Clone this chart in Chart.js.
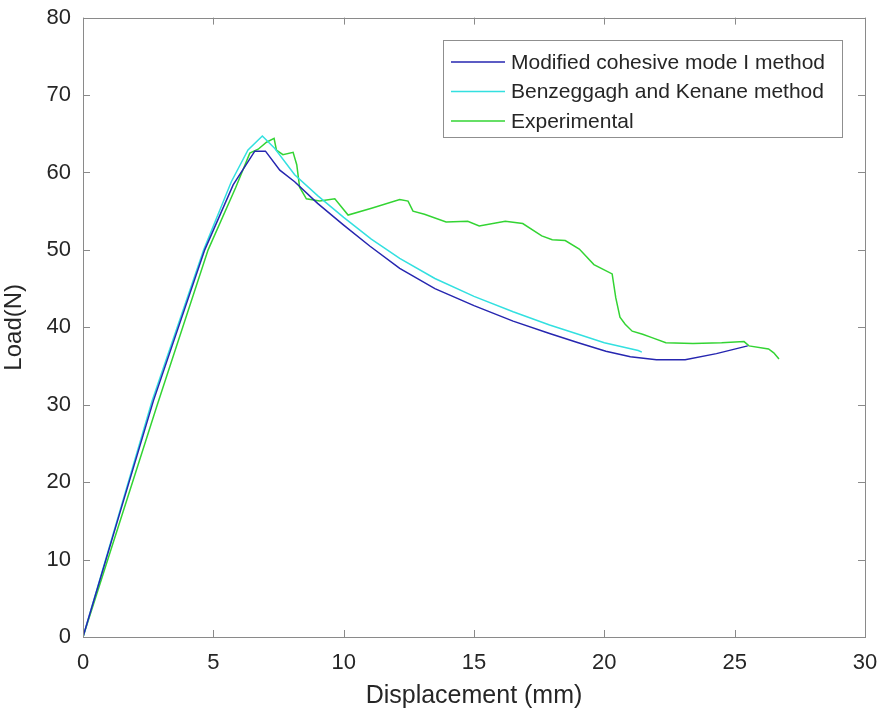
<!DOCTYPE html>
<html>
<head>
<meta charset="utf-8">
<title>Load vs displacement</title>
<script src="https://cdn.jsdelivr.net/npm/chart.js@4.4.1/dist/chart.umd.min.js"></script>
<style>
    html, body { margin: 0; padding: 0; background: #fff; }
    #wrap { width: 884px; height: 720px; }
</style>
</head>
<body>
<div id="wrap"><canvas id="loadChart" width="884" height="720"></canvas></div>
<script>
// Load–displacement curves: two cohesive-zone models against the test record

const xTicks = [0, 5, 10, 15, 20, 25, 30];
const yTicks = [0, 10, 20, 30, 40, 50, 60, 70, 80];

const seriesLabels = [
    'Modified cohesive mode I method',
    'Benzeggagh and Kenane method',
    'Experimental'
];
const seriesColors = ['#2626b0', '#33e0e0', '#33d433'];

const modifiedX = [0, 1.5, 2.7, 4.67, 5.76, 6.59, 7.0, 7.55, 8.12, 9, 10, 11, 12.15, 13.5, 15, 16.5, 17.9, 19, 20.06, 21, 22, 23.1, 24.3, 25.5];
const modifiedY = [0, 17, 30.5, 50, 58.4, 62.75, 62.75, 60.3, 58.8, 56, 53.2, 50.5, 47.6, 45, 42.8, 40.8, 39.2, 38, 36.9, 36.2, 35.8, 35.8, 36.6, 37.6];

const bkX = [0, 2.65, 4.63, 5.69, 6.33, 6.88, 7.36, 8.12, 9, 10, 11.06, 12.15, 13.5, 15, 16.5, 17.9, 19, 20, 21.3, 21.44];
const bkY = [0, 30.5, 50, 58.8, 62.9, 64.7, 63.1, 59.7, 57, 54.2, 51.4, 48.9, 46.3, 44, 42, 40.3, 39.1, 38, 37, 36.8];

const expX = [0, 2.85, 4.8, 5.85, 6.4, 6.72, 7.04, 7.33, 7.42, 7.67, 8.06, 8.2, 8.31, 8.57, 9.08, 9.66, 10.17, 11.1, 12.15, 12.47, 12.66, 13.1, 13.93, 14.76, 15.2, 16.2, 16.87, 17.6, 18.0, 18.5, 19.04, 19.6, 20.3, 20.44, 20.6, 20.8, 21.07, 21.47, 21.8, 22.36, 23.4, 24.5, 25.36, 25.55, 26.3, 26.5, 26.7];
const expY = [0, 30, 50, 58, 62.5, 63.0, 63.9, 64.4, 62.9, 62.3, 62.6, 61, 58.1, 56.6, 56.3, 56.6, 54.5, 55.4, 56.5, 56.3, 55.0, 54.6, 53.6, 53.7, 53.1, 53.7, 53.4, 51.8, 51.3, 51.2, 50.1, 48.1, 46.9, 43.8, 41.3, 40.4, 39.5, 39.1, 38.7, 38.0, 37.9, 38.0, 38.15, 37.6, 37.2, 36.7, 35.9];

function toPoints(xs, ys) {
    return xs.map((x, i) => ({ x: x, y: ys[i] }));
}

const seriesData = [
    toPoints(modifiedX, modifiedY),
    toPoints(bkX, bkY),
    toPoints(expX, expY)
];

const FONT = '"Liberation Sans", Arial, sans-serif';
const AXIS_COLOR = '#8a8a8a';
const TEXT_COLOR = '#262626';

/**
 * Box around the plot with inward ticks on all four sides
 */
const frameTicks = {
    id: 'frameTicks',
    afterDatasetsDraw(chart) {
        const { ctx, chartArea: a, scales } = chart;
        const len = 7;
        ctx.save();
        ctx.strokeStyle = AXIS_COLOR;
        ctx.lineWidth = 1;
        ctx.strokeRect(Math.round(a.left) + 0.5, Math.round(a.top) + 0.5,
            Math.round(a.right - a.left), Math.round(a.bottom - a.top));
        ctx.beginPath();
        xTicks.forEach(v => {
            const px = Math.round(scales.x.getPixelForValue(v)) + 0.5;
            ctx.moveTo(px, a.bottom); ctx.lineTo(px, a.bottom - len);
            ctx.moveTo(px, a.top); ctx.lineTo(px, a.top + len);
        });
        yTicks.forEach(v => {
            const py = Math.round(scales.y.getPixelForValue(v)) + 0.5;
            ctx.moveTo(a.left, py); ctx.lineTo(a.left + len, py);
            ctx.moveTo(a.right, py); ctx.lineTo(a.right - len, py);
        });
        ctx.stroke();
        ctx.restore();
    }
};

/**
 * Boxed legend in the upper right of the plot
 */
const boxLegend = {
    id: 'boxLegend',
    afterDraw(chart) {
        const { ctx } = chart;
        const box = { left: 443.5, top: 40.5, width: 399, height: 97 };
        const rowY = [62, 91.5, 121];
        ctx.save();
        ctx.fillStyle = '#fff';
        ctx.fillRect(box.left, box.top, box.width, box.height);
        ctx.strokeStyle = '#8f8f8f';
        ctx.lineWidth = 1;
        ctx.strokeRect(box.left, box.top, box.width, box.height);
        ctx.font = '21px ' + FONT;
        ctx.textBaseline = 'middle';
        ctx.fillStyle = TEXT_COLOR;
        chart.data.datasets.forEach((ds, i) => {
            ctx.strokeStyle = ds.borderColor;
            ctx.lineWidth = 1.3;
            ctx.beginPath();
            ctx.moveTo(451, rowY[i]);
            ctx.lineTo(505, rowY[i]);
            ctx.stroke();
            ctx.fillText(ds.label, 511, rowY[i] + 1);
        });
        ctx.restore();
    }
};

const chartCtx = document.getElementById('loadChart').getContext('2d');
new Chart(chartCtx, {
    type: 'line',
    data: {
        datasets: seriesData.map((pts, i) => ({
            label: seriesLabels[i],
            data: pts,
            borderColor: seriesColors[i],
            borderWidth: 1.5,
            pointRadius: 0,
            tension: 0,
            fill: false
        }))
    },
    options: {
        responsive: false,
        animation: false,
        events: [],
        layout: { padding: { top: 17.6, right: 19, left: 0, bottom: 0 } },
        plugins: {
            legend: { display: false },
            tooltip: { enabled: false }
        },
        scales: {
            x: {
                type: 'linear',
                min: 0,
                max: 30,
                afterFit(scale) {
                    scale.height = 83;
                    scale.paddingLeft = 0;
                    scale.paddingRight = 0;
                },
                afterBuildTicks(scale) { scale.ticks = xTicks.map(v => ({ value: v })); },
                grid: { display: false, drawTicks: false },
                border: { display: false },
                ticks: {
                    color: TEXT_COLOR,
                    font: { family: FONT, size: 22 },
                    padding: 13
                },
                title: {
                    display: true,
                    text: 'Displacement (mm)',
                    color: TEXT_COLOR,
                    font: { family: FONT, size: 25 },
                    padding: { top: 0, bottom: 9 }
                }
            },
            y: {
                type: 'linear',
                min: 0,
                max: 80,
                afterFit(scale) {
                    scale.width = 83;
                    scale.paddingTop = 0;
                    scale.paddingBottom = 0;
                },
                afterBuildTicks(scale) { scale.ticks = yTicks.map(v => ({ value: v })); },
                grid: { display: false, drawTicks: false },
                border: { display: false },
                ticks: {
                    color: TEXT_COLOR,
                    font: { family: FONT, size: 22 },
                    padding: 12
                },
                title: {
                    display: true,
                    text: 'Load(N)',
                    color: TEXT_COLOR,
                    font: { family: FONT, size: 24 },
                    padding: { top: 0, bottom: 12 }
                }
            }
        }
    },
    plugins: [frameTicks, boxLegend]
});
</script>
</body>
</html>
